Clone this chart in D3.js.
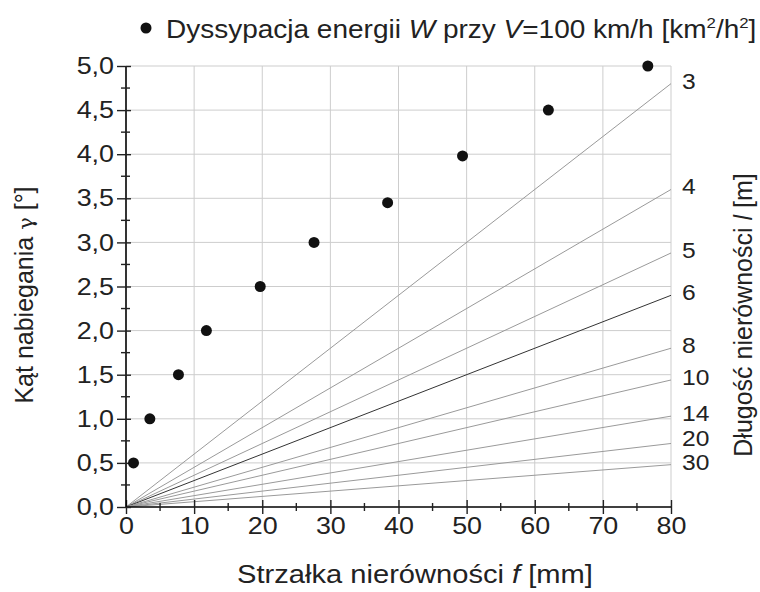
<!DOCTYPE html>
<html>
<head>
<meta charset="utf-8">
<script src="https://cdn.jsdelivr.net/npm/d3@7"></script>
<style>
  body { margin: 0; background: #fff; }
  text { font-family: "Liberation Sans", Arial, sans-serif; fill: #222; }
</style>
</head>
<body>
<div class="chart"></div>
<script>
// dissipation points (f [mm], gamma [deg])
let dotF = [1.1, 3.5, 7.7, 11.8, 19.7, 27.6, 38.4, 49.4, 62.0, 76.6];
let dotGamma = [0.5, 1.0, 1.5, 2.0, 2.5, 3.0, 3.45, 3.98, 4.5, 5.0];

// unevenness length lines: value of gamma reached at f = 80 mm
let lineLengths = ["3", "4", "5", "6", "8", "10", "14", "20", "30"];
let lineEndGamma = [4.80, 3.60, 2.88, 2.40, 1.80, 1.44, 1.03, 0.72, 0.48];

let xTicks = [0, 10, 20, 30, 40, 50, 60, 70, 80];
let yTicks = [0, 0.5, 1, 1.5, 2, 2.5, 3, 3.5, 4, 4.5, 5];

let svgWidth = 760;
let svgHeight = 592;

let margin = { top: 66, right: 89, bottom: 85, left: 126 };
let width = svgWidth - margin.left - margin.right;
let height = svgHeight - margin.top - margin.bottom;

// horizontal text in the original is a bit wider than the font
let sx = 1.12;
function stretch(sel) {
  sel.each(function() {
    let t = d3.select(this);
    let tx = +t.attr("x") || 0;
    let ty = +t.attr("y") || 0;
    t.attr("x", 0).attr("y", 0)
      .attr("transform", `translate(${tx},${ty}) scale(${sx},1)`);
  });
}

let svg = d3.select(".chart")
  .append("svg")
  .attr("width", svgWidth)
  .attr("height", svgHeight);

let chartGroup = svg.append("g")
  .attr("transform", `translate(${margin.left}, ${margin.top})`);

let x = d3.scaleLinear().domain([0, 80]).range([0, width]);
let y = d3.scaleLinear().domain([0, 5]).range([height, 0]);

// grid
chartGroup.append("g")
  .selectAll("line")
  .data(xTicks.slice(1))
  .enter()
  .append("line")
  .attr("x1", d => x(d)).attr("x2", d => x(d))
  .attr("y1", 0).attr("y2", height)
  .attr("stroke", "#cdcdcd").attr("stroke-width", 1);

chartGroup.append("g")
  .selectAll("line")
  .data(yTicks.slice(1))
  .enter()
  .append("line")
  .attr("x1", 0).attr("x2", width)
  .attr("y1", d => y(d)).attr("y2", d => y(d))
  .attr("stroke", "#cdcdcd").attr("stroke-width", 1);

// length lines
let lines = lineLengths.map((l, i) => ({ l: l, g: lineEndGamma[i] }));

chartGroup.append("g")
  .selectAll("line")
  .data(lines)
  .enter()
  .append("line")
  .attr("x1", x(0)).attr("y1", y(0))
  .attr("x2", x(80)).attr("y2", d => y(d.g))
  .attr("stroke", d => d.l === "6" ? "#333" : "#9a9a9a")
  .attr("stroke-width", 1);

// label positions: line end, pushed up so neighbours keep a gap
let labelY = lines.map(d => y(d.g) - 3);
for (let i = labelY.length - 2; i >= 0; i--) {
  labelY[i] = Math.min(labelY[i], labelY[i + 1] - 24);
}

chartGroup.append("g")
  .selectAll("text")
  .data(lines)
  .enter()
  .append("text")
  .attr("x", width + 11)
  .attr("y", (d, i) => labelY[i])
  .attr("dy", "0.36em")
  .style("font-size", "22px")
  .text(d => d.l)
  .call(stretch);

// axes
let xAxis = d3.axisBottom(x).tickValues(xTicks).tickSize(7).tickPadding(3).tickFormat(d3.format("d"));
let yAxis = d3.axisLeft(y).tickValues(yTicks).tickSize(9).tickPadding(3)
  .tickFormat(d => d3.format(".1f")(d).replace(".", ","));

let xg = chartGroup.append("g")
  .attr("transform", `translate(0, ${height})`)
  .call(xAxis);
xg.selectAll(".tick line").attr("y1", -7);
xg.select(".domain").attr("d", `M0,0H${width}`).attr("stroke-width", 1.6);

let yg = chartGroup.append("g").call(yAxis);
yg.selectAll(".tick line").attr("x1", 5);
yg.select(".domain").attr("d", `M0,${height}V0`).attr("stroke-width", 1.6);

// minor ticks
xg.selectAll(".minor")
  .data(d3.range(5, 80, 10))
  .enter()
  .append("line")
  .attr("x1", d => x(d)).attr("x2", d => x(d))
  .attr("y1", -4).attr("y2", 4)
  .attr("stroke", "#222").attr("stroke-width", 1.4);

yg.selectAll(".minor")
  .data(d3.range(0.25, 5, 0.5))
  .enter()
  .append("line")
  .attr("x1", -5).attr("x2", 4)
  .attr("y1", d => y(d)).attr("y2", d => y(d))
  .attr("stroke", "#222").attr("stroke-width", 1.4);

chartGroup.selectAll(".tick text")
  .attr("font-family", null)
  .style("font-size", "24px")
  .attr("fill", "#222");
chartGroup.selectAll(".tick line").attr("stroke", "#222").attr("stroke-width", 1.4);
stretch(xg.selectAll(".tick text"));
stretch(yg.selectAll(".tick text"));

// dots
chartGroup.append("g")
  .selectAll("circle")
  .data(dotF.map((f, i) => ({ f: f, g: dotGamma[i] })))
  .enter()
  .append("circle")
  .attr("cx", d => x(d.f))
  .attr("cy", d => y(d.g))
  .attr("r", 5.5)
  .attr("fill", "#111");

// axis titles
let xTitle = svg.append("text")
  .attr("x", 415)
  .attr("y", 583)
  .attr("text-anchor", "middle")
  .style("font-size", "26px");
xTitle.append("tspan").text("Strzałka nierówności   ");
xTitle.append("tspan").style("font-style", "italic").text("f");
xTitle.append("tspan").text(" [mm]");
xTitle.call(stretch);

let yTitle = svg.append("text")
  .attr("transform", "translate(33, 295) rotate(-90)")
  .attr("text-anchor", "middle")
  .style("font-size", "25px");
yTitle.append("tspan").text("Kąt nabiegania   ");
yTitle.append("tspan").style("font-family", "DejaVu Serif").style("font-size", "21px").text("γ");
yTitle.append("tspan").text(" [°]");

let rTitle = svg.append("text")
  .attr("transform", "translate(752, 315) rotate(-90)")
  .attr("text-anchor", "middle")
  .style("font-size", "25px");
rTitle.append("tspan").text("Długość nierówności ");
rTitle.append("tspan").style("font-style", "italic").text("l");
rTitle.append("tspan").text(" [m]");

// legend
svg.append("circle")
  .attr("cx", 146).attr("cy", 28).attr("r", 5.5).attr("fill", "#111");

let legend = svg.append("text")
  .attr("x", 166)
  .attr("y", 38)
  .style("font-size", "25px");
legend.append("tspan").text("Dyssypacja energii ");
legend.append("tspan").style("font-style", "italic").text("W");
legend.append("tspan").text(" przy ");
legend.append("tspan").style("font-style", "italic").text("V");
legend.append("tspan").text("=100 km/h [km");
legend.append("tspan").attr("dy", -10).style("font-size", "15px").text("2");
legend.append("tspan").attr("dy", 10).text("/h");
legend.append("tspan").attr("dy", -10).style("font-size", "15px").text("2");
legend.append("tspan").attr("dy", 10).text("]");
legend.call(stretch);
</script>
</body>
</html>
